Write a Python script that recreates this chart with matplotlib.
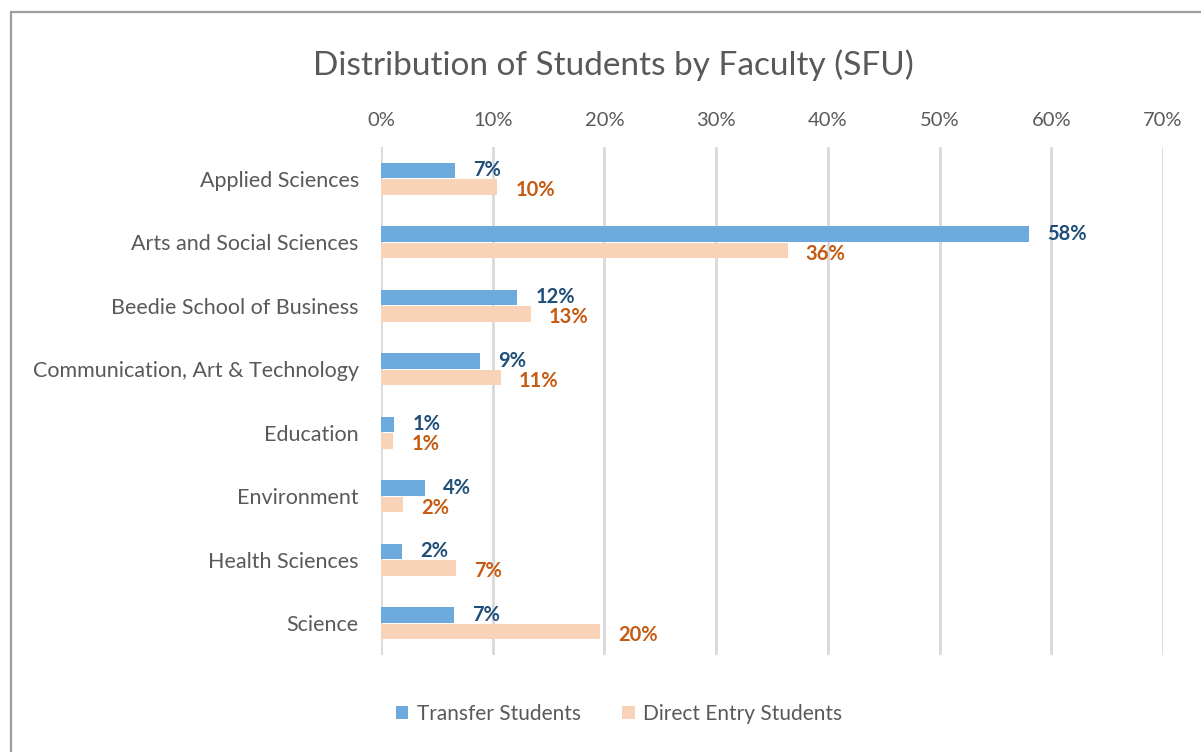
import matplotlib.pyplot as plt
from matplotlib.patches import Rectangle
from matplotlib.ticker import FuncFormatter

faculties = ['Applied Sciences', 'Arts and Social Sciences', 'Beedie School of Business',
             'Communication, Art & Technology', 'Education', 'Environment',
             'Health Sciences', 'Science']
transfer = [6.6, 58.0, 12.2, 8.9, 1.2, 3.9, 1.9, 6.5]
direct = [10.4, 36.4, 13.4, 10.7, 1.1, 2.0, 6.7, 19.6]
series_names = ['Transfer Students', 'Direct Entry Students']
xticks = [0, 10, 20, 30, 40, 50, 60, 70]

blue = '#6CA9DC'
peach = '#F9D3B8'
blue_lbl = '#1F4E79'
orange_lbl = '#C55A11'
gray_txt = '#595959'

plt.rcParams['font.family'] = ['Lato', 'DejaVu Sans']

fig = plt.figure(figsize=(12.01, 7.52), dpi=100)
# chart border (right/bottom edges fall outside the image)
fig.patches.append(Rectangle((11 / 1201, -0.1), 1.2, 1 - 12 / 752 + 0.1,
                             transform=fig.transFigure, fill=False,
                             edgecolor='#9E9E9E', linewidth=1.6))

ax = fig.add_axes([381 / 1201, 1 - 655 / 752, (1163 - 381) / 1201, (655 - 147) / 752])

ys = list(range(len(faculties)))
h = 0.25
off = 0.13
ax.barh([y - off for y in ys], transfer, height=h, color=blue, label=series_names[0], zorder=2)
ax.barh([y + off for y in ys], direct, height=h, color=peach, label=series_names[1], zorder=2)

for y, v in zip(ys, transfer):
    ax.annotate(f'{int(v + 0.5)}%', (v, y - off), xytext=(13, 0), textcoords='offset points',
                ha='left', va='center', fontsize=14.5, fontweight='bold', color=blue_lbl)
for y, v in zip(ys, direct):
    ax.annotate(f'{int(v + 0.5)}%', (v, y + off), xytext=(13, -2.5), textcoords='offset points',
                ha='left', va='center', fontsize=14.5, fontweight='bold', color=orange_lbl)

ax.set_xlim(0, 70)
ax.set_ylim(len(faculties) - 0.5, -0.5)
ax.set_xticks(xticks)
ax.xaxis.set_major_formatter(FuncFormatter(lambda v, p: f'{v:.0f}%'))
ax.xaxis.tick_top()
ax.set_yticks(ys)
ax.set_yticklabels(faculties)
ax.tick_params(axis='x', length=0, labelsize=14.5, labelcolor=gray_txt, pad=13)
ax.tick_params(axis='y', length=0, labelsize=15.5, labelcolor=gray_txt, pad=16)
ax.grid(axis='x', color='#D9D9D9', linewidth=2, zorder=0)
for s in ax.spines.values():
    s.set_visible(False)

fig.text(613 / 1201, 1 - 65 / 752, 'Distribution of Students by Faculty (SFU)',
         ha='center', va='center', fontsize=24, color=gray_txt)

fig.legend(loc='center', bbox_to_anchor=(619 / 1201, 1 - 714 / 752), ncol=2, frameon=False,
           fontsize=15, handlelength=0.6, handleheight=0.6, columnspacing=2.0,
           handletextpad=0.4, labelcolor=gray_txt)

fig.savefig('out.png', dpi=100)
